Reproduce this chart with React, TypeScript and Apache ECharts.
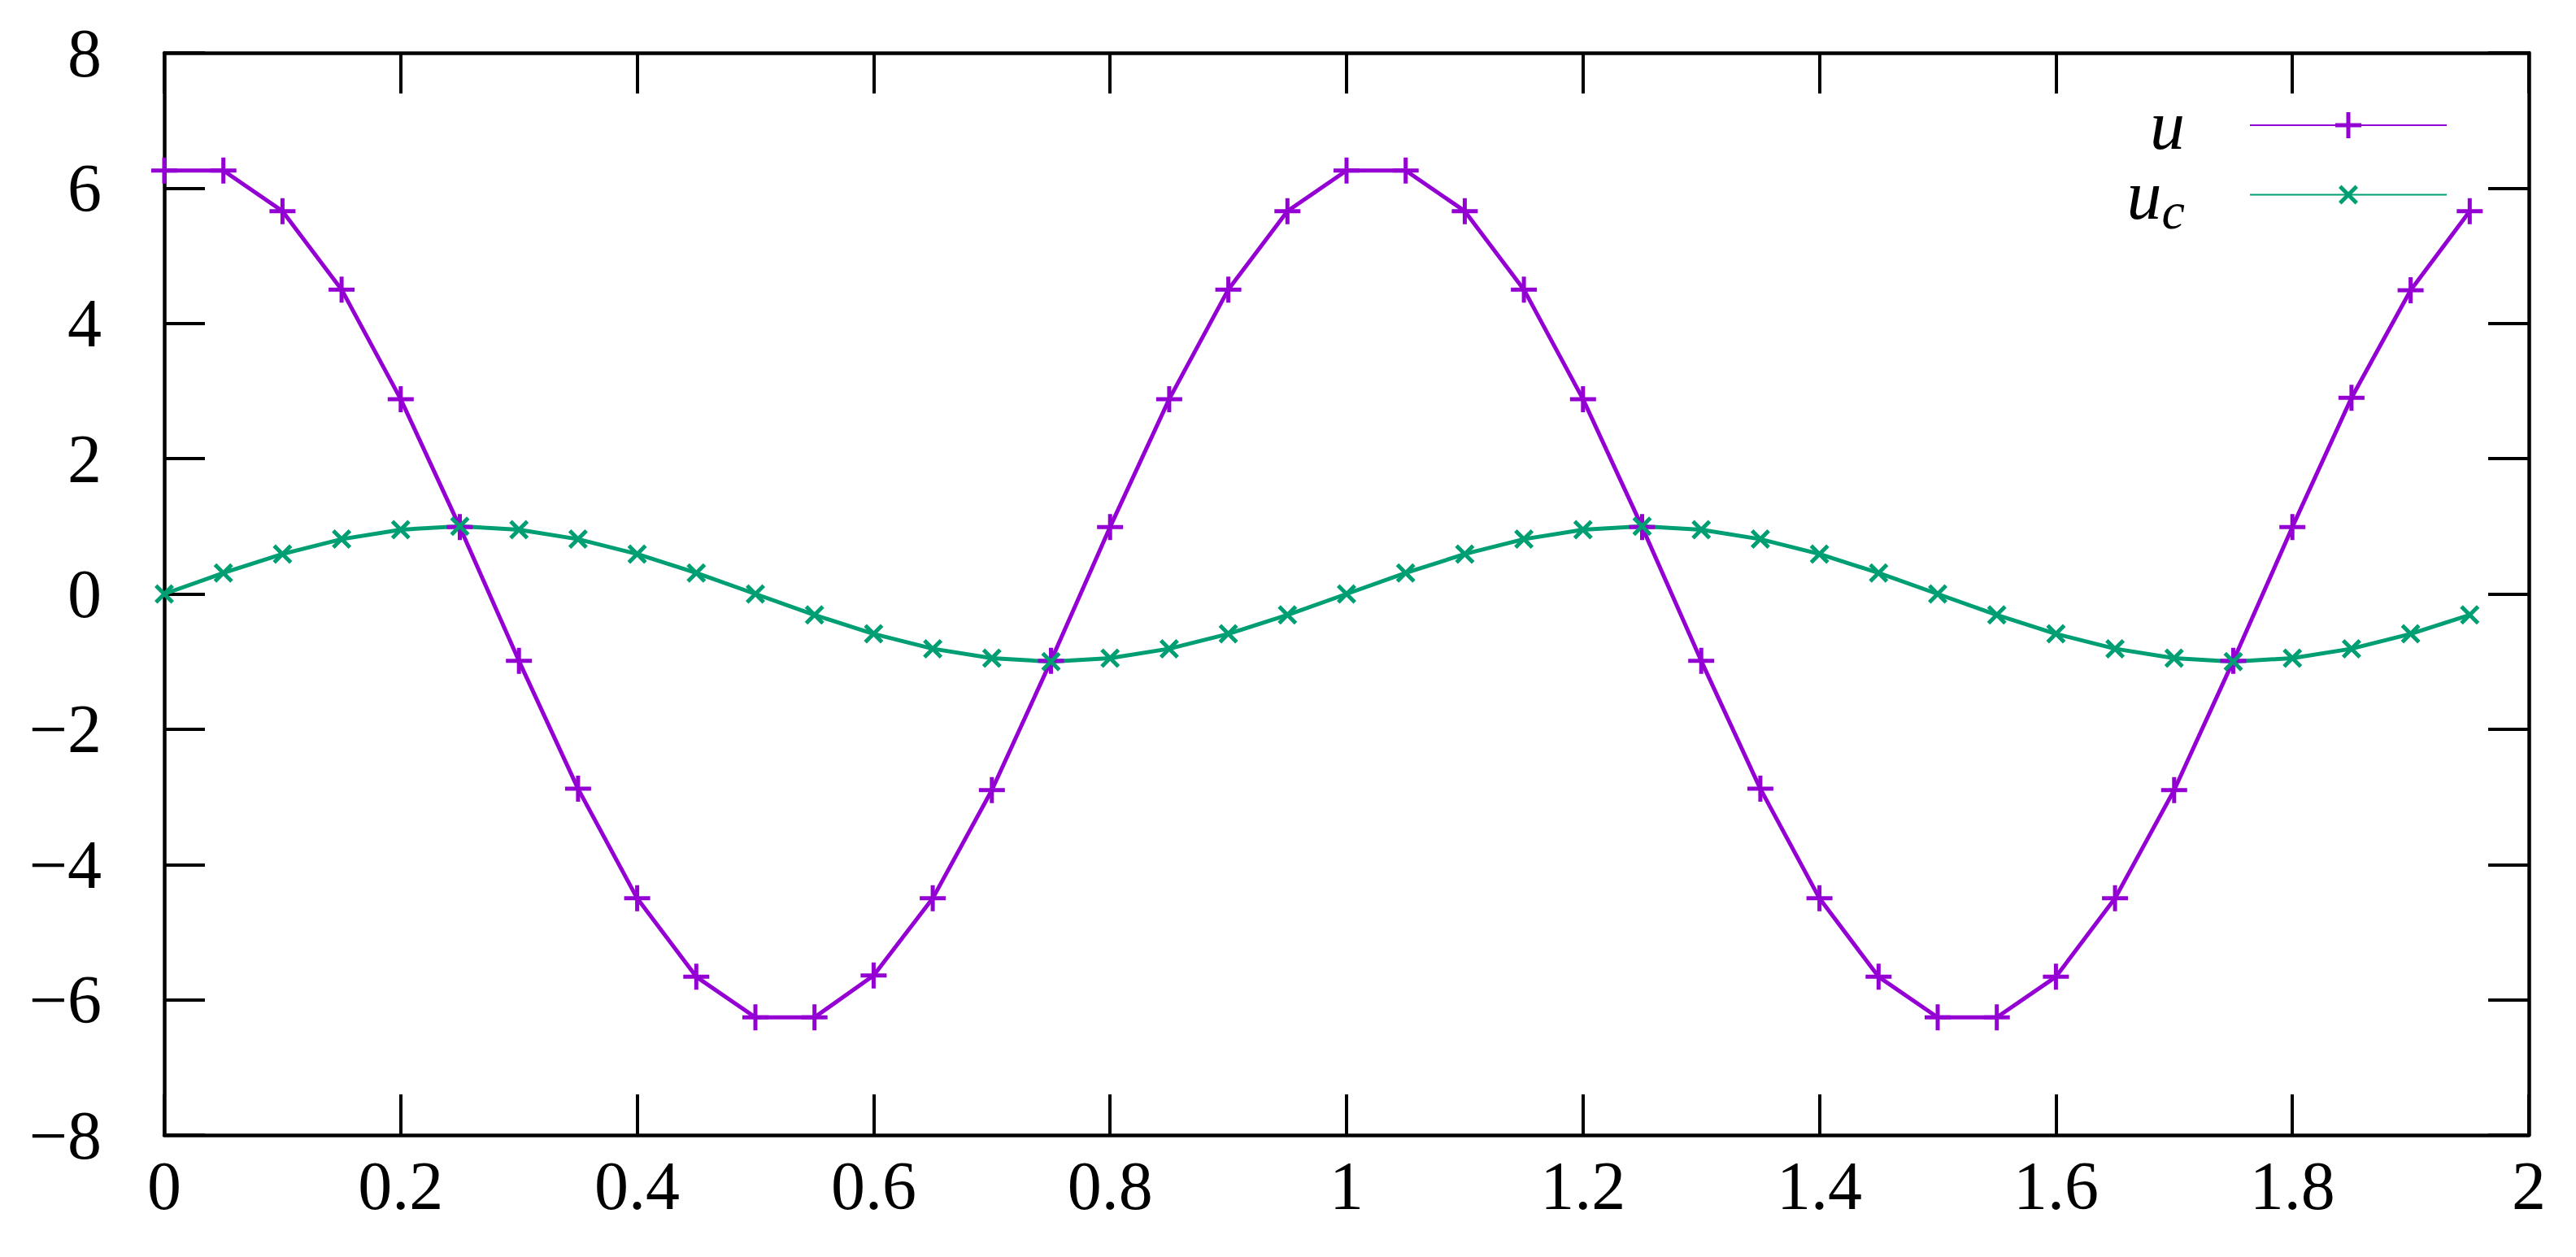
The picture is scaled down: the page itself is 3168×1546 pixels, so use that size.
import React, { useEffect, useRef } from "react";
import * as echarts from "echarts";

const xValues = [
  0, 0.05, 0.1, 0.15, 0.2, 0.25, 0.3, 0.35, 0.4, 0.45,
  0.5, 0.55, 0.6, 0.65, 0.7, 0.75, 0.8, 0.85, 0.9, 0.95,
  1.0, 1.05, 1.1, 1.15, 1.2, 1.25, 1.3, 1.35, 1.4, 1.45,
  1.5, 1.55, 1.6, 1.65, 1.7, 1.75, 1.8, 1.85, 1.9, 1.95,
];

const uValues = [
  6.26, 6.26, 5.66, 4.5, 2.88, 0.99, -0.99, -2.88, -4.5, -5.66,
  -6.26, -6.26, -5.64, -4.5, -2.9, -0.99, 0.99, 2.88, 4.5, 5.66,
  6.26, 6.26, 5.66, 4.5, 2.88, 0.99, -0.99, -2.88, -4.5, -5.66,
  -6.26, -6.26, -5.66, -4.5, -2.9, -0.99, 0.99, 2.9, 4.49, 5.66,
];

const ucValues = [
  0, 0.31, 0.59, 0.81, 0.95, 1.0, 0.95, 0.81, 0.59, 0.31,
  0, -0.31, -0.59, -0.81, -0.95, -1.0, -0.95, -0.81, -0.59, -0.31,
  0, 0.31, 0.59, 0.81, 0.95, 1.0, 0.95, 0.81, 0.59, 0.31,
  0, -0.31, -0.59, -0.81, -0.95, -1.0, -0.95, -0.81, -0.59, -0.31,
];

const seriesNames = ["u", "u_c"];
const seriesColors = ["#9400D3", "#009E73"];

const FONT = "'Liberation Serif', 'DejaVu Serif', serif";

const PLUS =
  "path://M13.5,0 L18.5,0 L18.5,13.5 L32,13.5 L32,18.5 L18.5,18.5 L18.5,32 L13.5,32 L13.5,18.5 L0,18.5 L0,13.5 L13.5,13.5 Z";
const CROSS =
  "path://M0,0 L0.01,0 L0.01,0.01 Z M32,32 L31.99,32 L31.99,31.99 Z " +
  "M4,7.5 L7.5,4 L16,12.5 L24.5,4 L28,7.5 L19.5,16 L28,24.5 L24.5,28 L16,19.5 L7.5,28 L4,24.5 L12.5,16 Z";

function fmt(v: number): string {
  const r = Number(v.toFixed(2));
  return r < 0 ? "\u2212" + String(Math.abs(r)) : String(r);
}

export default function App() {
  const ref = useRef<HTMLDivElement>(null);

  useEffect(() => {
    if (!ref.current) return;
    const chart = echarts.init(ref.current, undefined, { renderer: "svg" });

    const axisCommon = {
      type: "value" as const,
      axisLine: { show: true, onZero: false, lineStyle: { color: "#000", width: 4.5 } },
      axisTick: { show: true, inside: true, length: 50, lineStyle: { color: "#000", width: 4 } },
      splitLine: { show: false },
    };

    const labelStyle = {
      fontFamily: FONT,
      fontSize: 84,
      color: "#000",
      formatter: (v: number) => fmt(v),
    };

    const option = {
      animation: false,
      backgroundColor: "#ffffff",
      grid: { left: 202, right: 58, top: 65, bottom: 150, containLabel: false },
      legend: {
        orient: "vertical",
        right: 153,
        top: 106,
        align: "right",
        itemWidth: 242,
        itemHeight: 40,
        itemGap: -9,
        data: seriesNames,
        formatter: (name: string) => (name === "u_c" ? "{i|u}{s|c}" : "{i|u}"),
        textStyle: {
          padding: [0, 75, 0, 0],
          rich: {
            i: { fontFamily: FONT, fontStyle: "italic", fontSize: 86, lineHeight: 60, color: "#000" },
            s: {
              fontFamily: FONT,
              fontStyle: "italic",
              fontSize: 64,
              lineHeight: 22,
              padding: [39, 0, 0, 0],
              color: "#000",
            },
          },
        },
      },
      xAxis: [
        {
          ...axisCommon,
          position: "bottom",
          min: 0,
          max: 2,
          interval: 0.2,
          axisLabel: { ...labelStyle, margin: 20 },
        },
        {
          ...axisCommon,
          position: "top",
          min: 0,
          max: 2,
          interval: 0.2,
          axisLabel: { show: false },
        },
      ],
      yAxis: [
        {
          ...axisCommon,
          position: "left",
          min: -8,
          max: 8,
          interval: 2,
          axisLabel: { ...labelStyle, margin: 77 },
        },
        {
          ...axisCommon,
          position: "right",
          min: -8,
          max: 8,
          interval: 2,
          axisLabel: { show: false },
        },
      ],
      series: [
        {
          name: seriesNames[0],
          type: "line",
          xAxisIndex: 0,
          yAxisIndex: 0,
          data: xValues.map((x, i) => [x, uValues[i]]),
          symbol: PLUS,
          symbolSize: 32,
          showAllSymbol: true,
          lineStyle: { color: seriesColors[0], width: 5 },
          itemStyle: { color: seriesColors[0], borderWidth: 0 },
          emphasis: { disabled: true },
        },
        {
          name: seriesNames[1],
          type: "line",
          xAxisIndex: 0,
          yAxisIndex: 0,
          data: xValues.map((x, i) => [x, ucValues[i]]),
          symbol: CROSS,
          symbolSize: 32,
          showAllSymbol: true,
          lineStyle: { color: seriesColors[1], width: 5 },
          itemStyle: { color: seriesColors[1], borderWidth: 0 },
          emphasis: { disabled: true },
        },
      ],
    };

    chart.setOption(option as any);
    return () => {
      chart.dispose();
    };
  }, []);

  return (
    <div
      ref={ref}
      style={{ position: "fixed", left: 0, top: 0, width: 3168, height: 1546, background: "#fff" }}
    />
  );
}
